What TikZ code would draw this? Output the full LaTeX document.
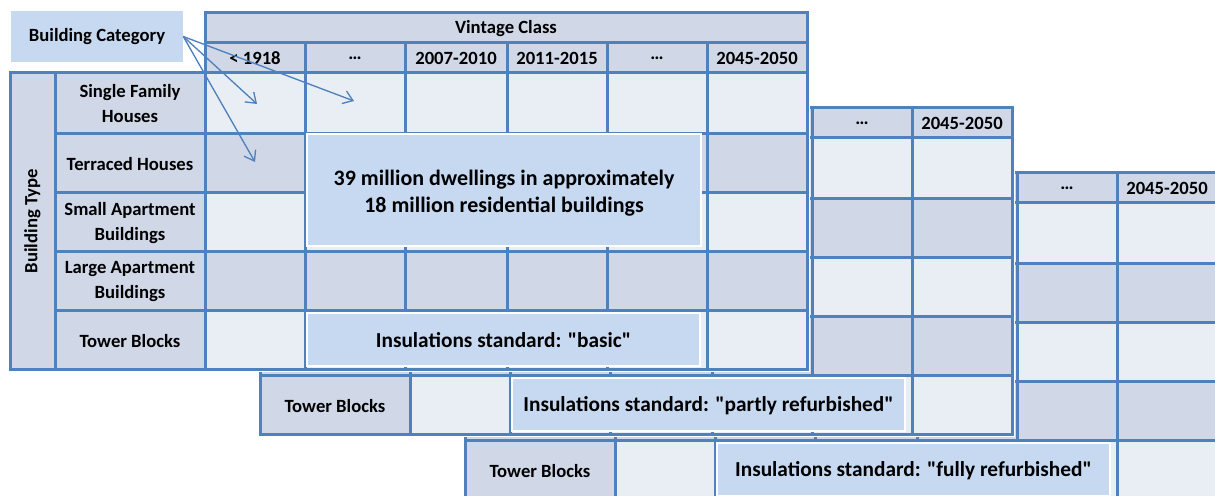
\documentclass[tikz,border=0pt]{standalone}
\usepackage{fontspec}
\setmainfont{Carlito}
\usetikzlibrary{arrows.meta}
\definecolor{gridblue}{HTML}{4F81BD}
\definecolor{celldark}{HTML}{D0D8E8}
\definecolor{celllight}{HTML}{E9EDF4}
\definecolor{boxblue}{HTML}{C6D9F1}
\tikzstyle{gridline}=[draw=gridblue,line width=2.25pt,line cap=rect]
\tikzstyle{celltext}=[font=\bfseries\fontsize{14}{18.75}\selectfont,align=center,inner sep=0pt]
\tikzstyle{boxtext}=[font=\bfseries\fontsize{16}{20}\selectfont,align=center,inner sep=0pt]
\tikzstyle{infobox}=[fill=boxblue,draw=white,line width=1.1pt]
\tikzstyle{pointer}=[draw=gridblue,line width=1pt,-{Straight Barb[length=7pt,width=10pt]}]
\newcommand{\drawlayer}[5]{
% #1,#2 shift, #3 name prefix, #4 first year label shown, #5 standard
\begin{scope}[shift={(#1,#2)}]
\fill[white] (52,39) rectangle (810,372);
\fill[celldark] (205,42) rectangle (807,72);
\fill[celldark] (55,72) rectangle (205,369);
\foreach \ya/\yb/\shade in {72/133/celllight,133/192/celldark,192/251/celllight,251/310/celldark,310/369/celllight}
  \fill[\shade] (205,\ya) rectangle (807,\yb);
\draw[gridline] (205,42) -- (807,42);
\foreach \y in {72,133,192,251,310,369}
  \draw[gridline] (55,\y) -- (807,\y);
\draw[gridline] (55,72) -- (55,369);
\foreach \x in {205,305,405,507,607,707,807}
  \draw[gridline] (\x,42) -- (\x,369);
\foreach \xa/\xb/\yr [count=\i] in {205/305/{< 1918},305/405/\ldots,405/507/2007-2010,507/607/2011-2015,607/707/\ldots,707/807/2045-2050}{
  \ifnum\i<#4 \else
  \node[celltext] (#3yr\i) at ({(\xa+\xb)/2},58.5) {\yr};
  \fi}
\node[celltext] (#3tower) at (130,341) {Tower Blocks};
\filldraw[infobox] (307,313) rectangle (700,366);
\node[boxtext] (#3std) at (503.5,340.5) {Insulations standard: \textquotedbl#5\textquotedbl};
\end{scope}
}

\begin{document}
\begin{tikzpicture}[x=0.75pt,y=-0.75pt]
\useasboundingbox (0,0) rectangle (1215,496);
\clip (0,0) rectangle (1215,496);
\drawlayer{410}{130}{C}{5}{fully refurbished}
\drawlayer{205}{65}{B}{5}{partly refurbished}
\drawlayer{0}{0}{A}{1}{basic}
% vintage class header
\fill[celldark] (205,12) rectangle (807,42);
\draw[gridline] (205,12) rectangle (807,42);
\node[celltext] (vintage) at (506,28.5) {Vintage Class};
% building type column
\fill[celldark] (10,72) rectangle (55,369);
\draw[gridline] (10,72) rectangle (55,369);
\node[celltext,rotate=90] (btype) at (32.5,221) {Building Type};
\foreach \ya/\yb/\lbl [count=\i] in {72/133/{Single Family\\Houses},133/192/{Terraced Houses},192/251/{Small Apartment\\Buildings},251/310/{Large Apartment\\Buildings}}
  \node[celltext] (Arow\i) at (130,{(\ya+\yb)/2+1.5}) {\lbl};
\filldraw[infobox] (307,134) rectangle (701,246);
\node[boxtext,font=\bfseries\fontsize{16.5}{20}\selectfont] (dwell) at (504,193) {39 million dwellings in approximately\\18 million residential buildings};
% category and pointers
\node[celltext,fill=boxblue,minimum width=129pt,minimum height=38.25pt] (category) at (97,36.5) {Building Category};
\coordinate (tipA) at (257,104);
\coordinate (tipB) at (354,101);
\coordinate (tipC) at (255,162);
\foreach \t in {tipA,tipB,tipC}
  \draw[pointer] (category.east) -- (\t);
\end{tikzpicture}
\end{document}
